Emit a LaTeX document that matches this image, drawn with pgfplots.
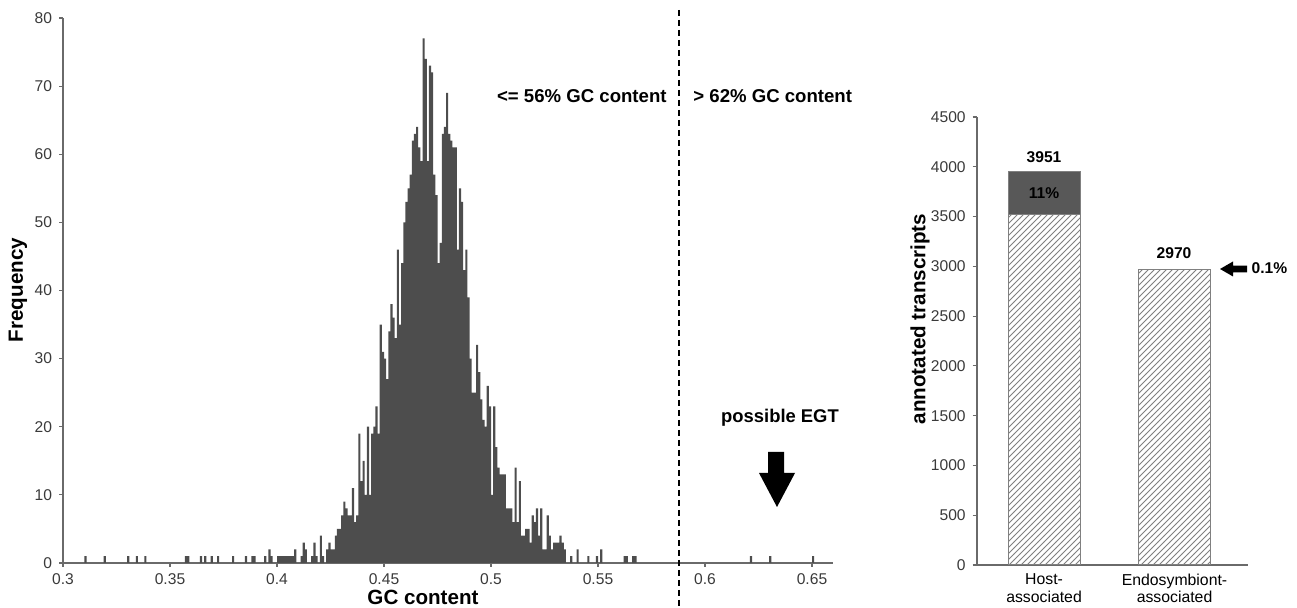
\documentclass[border=0pt]{standalone}
\usepackage{pgfplots}
\pgfplotsset{compat=1.18}
\usetikzlibrary{patterns}
\usepackage{fontspec}
\setmainfont{Liberation Sans}

\definecolor{histgray}{HTML}{4D4D4D}
\definecolor{axgray}{HTML}{6A6A6A}
\definecolor{lblgray}{HTML}{3A3A3A}
\definecolor{stackgray}{HTML}{585858}
\newcommand{\tk}{\fontsize{7.8}{9}\selectfont}
\newcommand{\lb}{\fontsize{10.3}{12}\selectfont\bfseries}
\newcommand{\an}{\fontsize{9.3}{11}\selectfont\bfseries}
\newcommand{\vl}{\fontsize{7.8}{9}\selectfont\bfseries}

\pgfplotsset{panel/.style={scale only axis, anchor=south west, axis lines=left,
  axis line style={axgray, line width=0.8pt, -}, tick align=outside, major tick length=2pt,
  tick style={axgray, line width=0.6pt}, tick label style={font=\tk, color=lblgray},
  /pgf/number format/assume math mode=true, /pgf/number format/1000 sep={},
  scaled ticks=false, clip=false}}

\begin{document}
\begin{tikzpicture}
\useasboundingbox (0,0) rectangle (648.5pt,304pt);

% GC content histogram, bins of 0.001
\begin{axis}[panel, at={(31.5pt,22.5pt)}, width=385.2pt, height=272.5pt,
  xmin=0.3, xmax=0.66, ymin=0, ymax=80,
  xtick={0.3,0.35,0.4,0.45,0.5,0.55,0.6,0.65},
  xticklabels={0.3,0.35,0.4,0.45,0.5,0.55,0.6,0.65},
  ytick={0,10,20,30,40,50,60,70,80}]
\addplot[ybar, bar width=0.001, bar shift=0pt, fill=histgray, draw=none] coordinates {
(0.3105,1) (0.3195,1) (0.3305,1) (0.3345,1) (0.3385,1) (0.3575,1) (0.3585,1)
(0.3645,1) (0.3665,1) (0.3695,1) (0.3725,1) (0.3795,1) (0.3855,1) (0.3885,1)
(0.3895,1) (0.3945,1) (0.3965,2) (0.3975,1)
(0.4005,1) (0.4015,1) (0.4025,1) (0.4035,1) (0.4045,1) (0.4055,1) (0.4065,1) (0.4075,1)
(0.4085,2) (0.4115,1) (0.4125,3) (0.4135,2) (0.4165,1) (0.4175,3) (0.4185,1)
(0.4205,4) (0.4215,1) (0.4235,2) (0.4245,3) (0.4255,2) (0.4265,2) (0.4275,4)
(0.4285,5) (0.4295,5) (0.4305,7) (0.4315,9) (0.4325,8) (0.4335,7) (0.4345,7)
(0.4355,11) (0.4365,6) (0.4375,7) (0.4385,19) (0.4395,12) (0.4405,15) (0.4415,10)
(0.4425,20) (0.4435,10) (0.4445,19) (0.4455,20) (0.4465,23) (0.4475,19) (0.4485,35)
(0.4495,31) (0.4505,30) (0.4515,27) (0.4525,34) (0.4535,38) (0.4545,36) (0.4555,33)
(0.4565,46) (0.4575,35) (0.4585,44) (0.4595,50) (0.4605,53) (0.4615,55) (0.4625,57)
(0.4635,62) (0.4645,63) (0.4655,64) (0.4665,61) (0.4675,59) (0.4685,77) (0.4695,74)
(0.4705,59) (0.4715,73) (0.4725,72) (0.4735,57) (0.4745,54) (0.4755,44) (0.4765,47)
(0.4775,63) (0.4785,64) (0.4795,69) (0.4805,63) (0.4815,62) (0.4825,61) (0.4835,61)
(0.4845,46) (0.4855,55) (0.4865,53) (0.4875,43) (0.4885,46) (0.4895,39) (0.4905,30)
(0.4915,25) (0.4925,25) (0.4935,32) (0.4945,28) (0.4955,24) (0.4965,21) (0.4975,20)
(0.4985,26) (0.4995,23) (0.5005,10) (0.5015,23) (0.5025,17) (0.5035,14) (0.5045,13)
(0.5055,13) (0.5065,13) (0.5075,8) (0.5085,8) (0.5095,8) (0.5105,6) (0.5115,14)
(0.5125,6) (0.5135,12) (0.5145,4) (0.5155,4) (0.5165,5) (0.5175,5) (0.5185,3)
(0.5195,7) (0.5205,6) (0.5215,8) (0.5225,4) (0.5235,8) (0.5245,2) (0.5255,2)
(0.5265,7) (0.5275,4) (0.5285,2) (0.5295,3) (0.5305,3) (0.5315,3) (0.5325,4)
(0.5335,3) (0.5345,2) (0.5375,1) (0.5405,2) (0.5455,1) (0.5495,1) (0.5515,2)
(0.5625,1) (0.5635,1) (0.5665,1) (0.5675,1) (0.6215,1) (0.6305,1) (0.6505,1)
};
\end{axis}

% annotated transcripts, stacked bars
\begin{axis}[panel, at={(488.35pt,21.5pt)}, width=135.65pt, height=224pt,
  xmin=-0.516, xmax=1.563, ymin=0, ymax=4500,
  ybar stacked, bar width=0.552,
  xtick={0,1}, xticklabels={Host-\\associated,Endosymbiont-\\associated},
  xticklabel style={align=center, font=\fontsize{7.9}{8.6}\selectfont, color=black, yshift=1pt},
  x tick style={draw=none},
  ytick={0,500,1000,1500,2000,2500,3000,3500,4000,4500}]
\addplot[fill=white, draw=gray, line width=0.5pt,
  postaction={pattern=north east lines, pattern color=gray}] coordinates {(0,3516) (1,2967)};
\addplot[fill=stackgray, draw=gray, line width=0.5pt] coordinates {(0,435) (1,3)};
\end{axis}

% histogram annotations
\draw[black, line width=1.4pt, dash pattern=on 3pt off 2pt] (339.5pt,299pt) -- (339.5pt,0pt);
\node[font=\an, anchor=east, inner sep=0pt] at (333.5pt,256pt) {<= 56\% GC content};
\node[font=\an, anchor=west, inner sep=0pt] at (346.5pt,256pt) {> 62\% GC content};
\node[font=\fontsize{9.2}{11}\selectfont\bfseries, inner sep=0pt] at (390pt,95pt) {possible EGT};
\fill (384pt,78pt) -- (392pt,78pt) -- (392pt,67.5pt) -- (397.5pt,67.5pt) -- (388.5pt,50.5pt)
  -- (379.5pt,67.5pt) -- (384pt,67.5pt) -- cycle;
\node[font=\lb, rotate=90, inner sep=0pt] at (9pt,159pt) {Frequency};
\node[font=\lb, inner sep=0pt] at (211.5pt,5.5pt) {GC content};

% bar chart annotations
\node[font=\lb, rotate=90, inner sep=0pt] at (460pt,144.5pt) {annotated transcripts};
\node[font=\vl, inner sep=0pt] at (522pt,225.5pt) {3951};
\node[font=\vl, inner sep=0pt] at (522pt,207.5pt) {11\%};
\node[font=\vl, inner sep=0pt] at (587pt,177.5pt) {2970};
\fill (610pt,169.5pt) -- (616.5pt,173.25pt) -- (616.5pt,171.2pt) -- (623.5pt,171.2pt)
  -- (623.5pt,167.8pt) -- (616.5pt,167.8pt) -- (616.5pt,165.75pt) -- cycle;
\node[font=\vl, inner sep=0pt] at (634.75pt,170pt) {0.1\%};
\end{tikzpicture}
\end{document}
